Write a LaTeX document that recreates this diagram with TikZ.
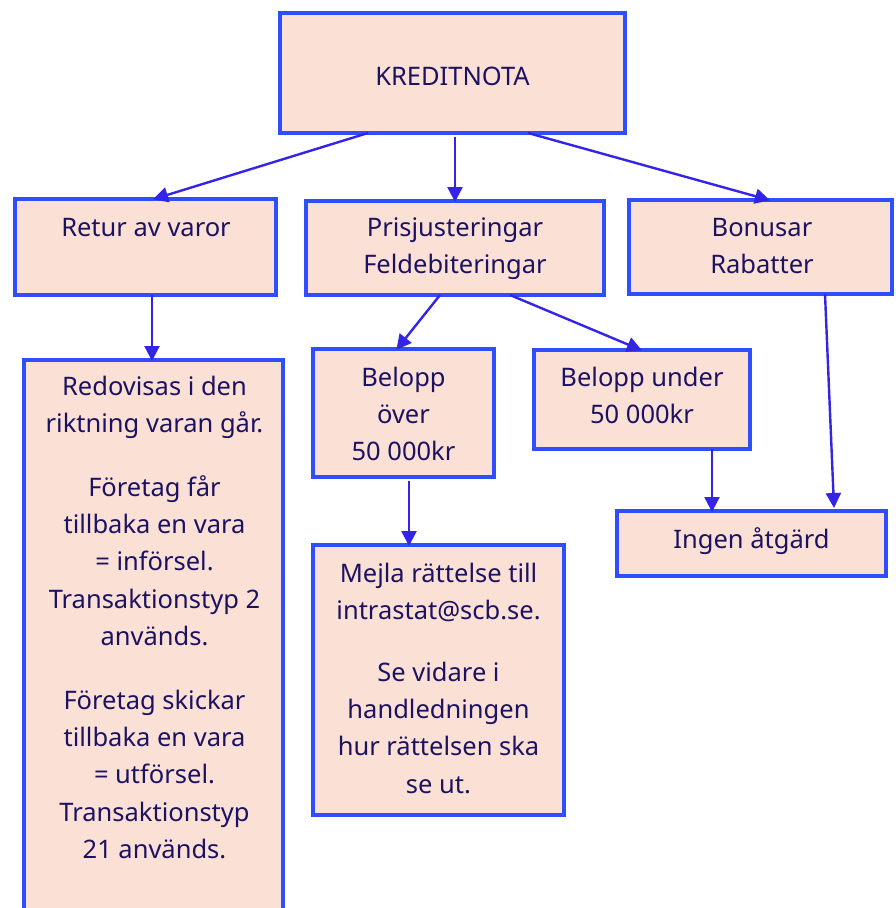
\documentclass[tikz,border=0pt]{standalone}
\usepackage{fontspec}
\setmainfont{Noto Sans}
\usetikzlibrary{arrows.meta}
\definecolor{boxfill}{RGB}{251,224,214}
\definecolor{boxline}{RGB}{47,78,255}
\definecolor{arrcol}{RGB}{52,36,232}
\definecolor{txtcol}{RGB}{28,18,98}
\newcommand\myfs{\fontsize{25.5}{37.2}\selectfont}
\tikzset{
  box/.style={draw=boxline, fill=boxfill, line width=3.8pt, inner sep=0pt, outer sep=0pt, anchor=north west},
  txt/.style={text=txtcol, font=\myfs, align=center, anchor=north, inner sep=0pt, outer sep=0pt},
  arr/.style={draw=arrcol, line width=2.4pt, -{Triangle[length=15pt,width=15pt]}, shorten >=-1pt}
}
\begin{document}
\begin{tikzpicture}[x=1pt,y=-1pt]
\useasboundingbox (0,0) rectangle (896,908);
\clip (0,0) rectangle (896,908);
% boxes
\node[box, minimum width=345pt, minimum height=120pt] (kred) at (280,13) {};
\node[box, minimum width=261pt, minimum height=96pt] (retur) at (15,199) {};
\node[box, minimum width=298pt, minimum height=94pt] (pris) at (306,201) {};
\node[box, minimum width=263pt, minimum height=94pt] (bonus) at (629,200) {};
\node[box, minimum width=259pt, minimum height=580pt] (redov) at (24,360) {};
\node[box, minimum width=181pt, minimum height=128pt] (over) at (313,349) {};
\node[box, minimum width=216pt, minimum height=99pt] (under) at (534,350) {};
\node[box, minimum width=269pt, minimum height=65pt] (ingen) at (617,511) {};
\node[box, minimum width=251pt, minimum height=270pt] (mejla) at (313,545) {};
% texts
\node[txt] (tkred) at (452.5,58.96) {\strut KREDITNOTA};
\node[txt] (tretur) at (146,209.96) {\strut Retur av varor};
\node[txt] (tpris) at (455,209.96) {\strut Prisjusteringar\\Feldebiteringar};
\node[txt] (tbonus) at (762,209.96) {\strut Bonusar\\Rabatter};
\node[txt] (tredov) at (154.5,368.96) {\strut Redovisas i den\\riktning varan går.\\[27pt]
Företag får\\tillbaka en vara\\= införsel.\\Transaktionstyp 2\\används.\\[27pt]
Företag skickar\\tillbaka en vara\\= utförsel.\\Transaktionstyp\\21 används.};
\node[txt] (tover) at (403.5,359.96) {\strut Belopp\\över\\50 000kr};
\node[txt] (tunder) at (642,359.96) {\strut Belopp under\\50 000kr};
\node[txt] (tingen) at (751.5,521.96) {\strut Ingen åtgärd};
\node[txt] (tmejla) at (438.5,555.96) {\strut Mejla rättelse till\\intrastat@scb.se.\\[25pt]
Se vidare i\\handledningen\\hur rättelsen ska\\se ut.};
% connectors
\draw[arr] ([xshift=88pt]kred.south west) -- ([xshift=139pt]retur.north west);
\draw[arr] ([xshift=175pt,yshift=-4pt]kred.south west) -- ([xshift=149pt]pris.north west);
\draw[arr] ([xshift=248pt]kred.south west) -- ([xshift=140pt]bonus.north west);
\draw[arr] ([xshift=137pt]retur.south west) -- ([xshift=128pt]redov.north west);
\draw[arr] ([xshift=134pt]pris.south west) -- ([xshift=84pt]over.north west);
\draw[arr] ([xshift=204pt]pris.south west) -- ([xshift=107pt]under.north west);
\draw[arr] ([xshift=196pt]bonus.south west) -- ([xshift=217pt,yshift=4pt]ingen.north west);
\draw[arr] ([xshift=178pt]under.south west) -- ([xshift=95pt]ingen.north west);
\draw[arr] ([xshift=96pt,yshift=-4pt]over.south west) -- ([xshift=96pt]mejla.north west);
\end{tikzpicture}
\end{document}
